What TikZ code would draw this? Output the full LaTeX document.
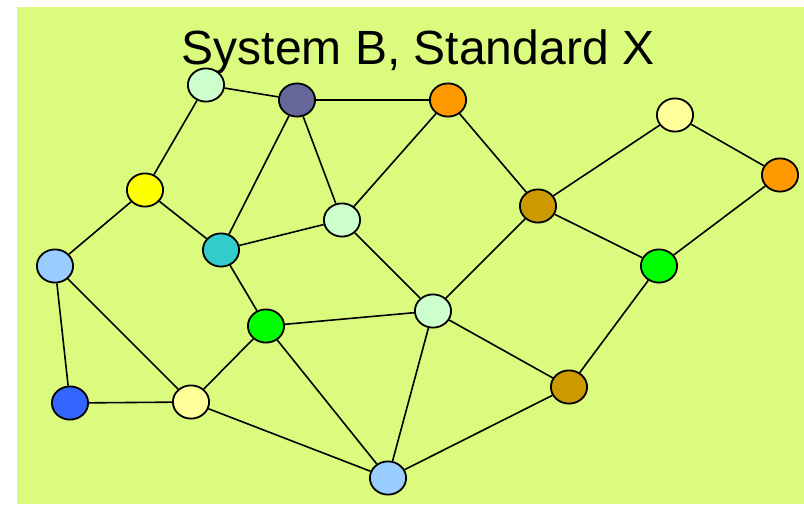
\documentclass[tikz,border=0pt]{standalone}
\usepackage{fontspec}
\setmainfont{Liberation Sans}
\usetikzlibrary{shapes.geometric}
\definecolor{bg}{RGB}{219,251,127}
\definecolor{mint}{HTML}{CCFFCC}
\definecolor{slate}{HTML}{666699}
\definecolor{orng}{HTML}{FF9900}
\definecolor{yel}{HTML}{FFFF00}
\definecolor{teal2}{HTML}{33CCCC}
\definecolor{paleyel}{HTML}{FFFF99}
\definecolor{brwn}{HTML}{CC9900}
\definecolor{grn}{HTML}{00FF00}
\definecolor{skyb}{HTML}{99CCFF}
\definecolor{blu}{HTML}{3366FF}
\begin{document}
\begin{tikzpicture}[x=1pt,y=-1pt,
  vtx/.style={ellipse,draw=black,line width=1.8pt,minimum width=36.2pt,minimum height=33.2pt,inner sep=0pt},
  edge/.style={draw=black,line width=1.6pt}]
\useasboundingbox (0,0) rectangle (804,504);
\fill[bg] (17,7) rectangle (804,504);
\node[font=\fontsize{48}{52}\selectfont,anchor=base] (title) at (418,64) {System B, Standard X};
\node[vtx,fill=mint] (A) at (206,85) {};
\node[vtx,fill=slate] (B) at (297,100) {};
\node[vtx,fill=orng] (C) at (448,100) {};
\node[vtx,fill=yel] (D) at (145,190) {};
\node[vtx,fill=teal2] (E) at (221,250) {};
\node[vtx,fill=mint] (F) at (342,220) {};
\node[vtx,fill=paleyel] (G) at (675,115) {};
\node[vtx,fill=orng] (H) at (780,175) {};
\node[vtx,fill=brwn] (I) at (538,206) {};
\node[vtx,fill=grn] (J) at (659,266) {};
\node[vtx,fill=skyb] (K) at (55,266) {};
\node[vtx,fill=grn] (M) at (266,326) {};
\node[vtx,fill=mint] (N) at (433,311) {};
\node[vtx,fill=brwn] (O) at (569,387) {};
\node[vtx,fill=blu] (P) at (70,403) {};
\node[vtx,fill=paleyel] (Q) at (191,402) {};
\node[vtx,fill=skyb] (R) at (388,478) {};
\path[edge] (A)--(B) (A)--(D) (B)--(C) (B)--(E) (B)--(F) (C)--(F) (C)--(I)
  (D)--(K) (D)--(E) (E)--(F) (E)--(M) (F)--(N) (I)--(N) (I)--(G) (G)--(H)
  (H)--(J) (I)--(J) (J)--(O) (N)--(M) (N)--(R) (N)--(O) (M)--(Q) (M)--(R)
  (K)--(Q) (K)--(P) (P)--(Q) (Q)--(R) (R)--(O);
\end{tikzpicture}
\end{document}
